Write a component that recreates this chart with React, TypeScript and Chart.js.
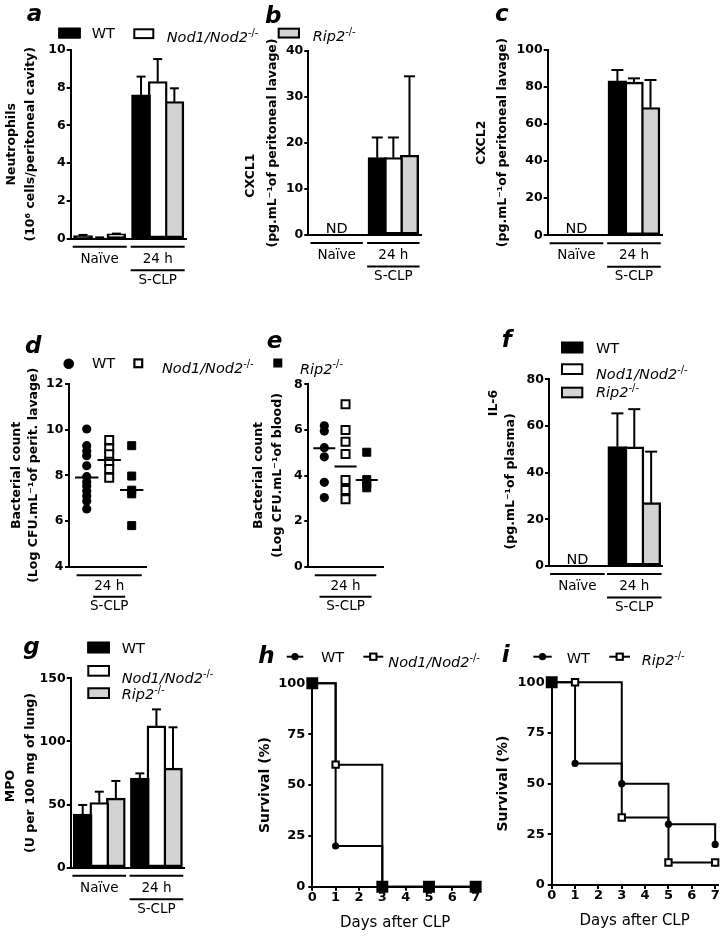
import React, { useEffect, useRef } from 'react';
import { Chart, registerables } from 'chart.js';

Chart.register(...registerables);

const PW = 723;
const PH = 939;
const FAM = "'DejaVu Sans', 'Liberation Sans', Arial, sans-serif";
const INK = '#000000';
const GREY = '#d3d3d3';
const PAPER = '#ffffff';

// ---------------- data ----------------
const barGroups = ['Naïve', '24 h'];
const genotypeNames = ['WT', 'Nod1/Nod2', 'Rip2'];
const koMark = '-/-';

// a — neutrophils (10^6 cells / peritoneal cavity): mean and SEM
const neutroWT = [0.15, 7.62];
const neutroNod = [0.05, 8.32];
const neutroRip = [0.25, 7.26];
const neutroWTErr = [0.05, 0.97];
const neutroNodErr = [0.02, 1.2];
const neutroRipErr = [0.02, 0.71];

// b — CXCL1 (pg/mL); naïve not detected
const cxcl1WT = [null, 16.8];
const cxcl1Nod = [null, 16.8];
const cxcl1Rip = [null, 17.3];
const cxcl1WTErr = [null, 4.4];
const cxcl1NodErr = [null, 4.4];
const cxcl1RipErr = [null, 17.2];

// c — CXCL2 (pg/mL)
const cxcl2WT = [null, 83.3];
const cxcl2Nod = [null, 82.6];
const cxcl2Rip = [null, 68.9];
const cxcl2WTErr = [null, 5.9];
const cxcl2NodErr = [null, 2.1];
const cxcl2RipErr = [null, 14.9];

// d — peritoneal bacterial count (log CFU/mL), individual animals
const periWT = [10.03, 9.3, 9.07, 8.86, 8.42, 7.94, 7.72, 7.53, 7.31, 7.1, 6.88, 6.53];
const periNod = [9.55, 9.18, 8.92, 8.6, 8.28, 7.9];
const periRip = [9.3, 7.97, 7.35, 7.19, 5.8];
const periMeans = [7.91, 8.67, 7.36];

// e — blood bacterial count (log CFU/mL)
const bloodWT = [6.18, 5.95, 5.22, 4.82, 3.7, 3.03];
const bloodNod = [7.12, 6.0, 5.48, 4.94, 3.8, 3.36, 2.96];
const bloodRip = [5.02, 3.82, 3.64, 3.46];
const bloodMeans = [5.19, 4.39, 3.8];

// f — IL-6 (pg/mL plasma)
const il6WT = [null, 51.1];
const il6Nod = [null, 51.0];
const il6Rip = [null, 27.1];
const il6WTErr = [null, 14.3];
const il6NodErr = [null, 16.2];
const il6RipErr = [null, 21.9];

// g — MPO (U per 100 mg lung)
const mpoWT = [42.3, 70.8];
const mpoNod = [51.5, 112.2];
const mpoRip = [55.0, 78.7];
const mpoWTErr = [7.4, 3.9];
const mpoNodErr = [8.7, 13.2];
const mpoRipErr = [13.7, 32.5];

// h, i — survival (%)
const days = [0, 1, 3, 5, 7];
const survWTh = [100, 20, 0, 0, 0];
const survNodh = [100, 60, 0, 0, 0];
const survWTi = [100, 60, 50, 30, 20];
const survRipi = [100, 100, 33.3, 11.1, 11.1];

// ---------------- helpers ----------------
const TITLE_SIZE = 12.5;
const common: any = {
  responsive: false,
  animation: false,
  devicePixelRatio: 1,
  events: [],
  plugins: { legend: { display: false }, tooltip: { enabled: false } },
};

// shift a rotated (left-axis) title line along the axis by padding it with spaces
// positive = downwards, negative = upwards
function shifted(t: string, px: number) {
  const n = Math.round((2 * Math.abs(px)) / (0.348 * TITLE_SIZE));
  const pad = ' '.repeat(n);
  return px >= 0 ? t + pad : pad + t;
}

function yScale(o: any) {
  return {
    type: 'linear',
    min: o.min,
    max: o.max,
    ticks: {
      stepSize: o.step,
      color: INK,
      padding: o.pad ?? 1,
      font: { family: FAM, size: o.tickSize ?? 12.5, weight: 'bold', lineHeight: 1.2 },
    },
    grid: { display: true, drawOnChartArea: false, drawTicks: true, tickLength: 4, color: INK, lineWidth: 2 },
    border: { display: true, color: INK, width: 2 },
    title: {
      display: true,
      text: o.title,
      color: INK,
      padding: { top: 0, bottom: 0 },
      font: { family: FAM, size: o.titleSize ?? TITLE_SIZE, weight: 'bold', lineHeight: `${o.lh}px` },
    },
    afterFit: (s: any) => {
      s.width = o.width;
    },
  };
}

function hline(ctx: any, x1: number, x2: number, y: number) {
  ctx.beginPath();
  ctx.moveTo(x1, y);
  ctx.lineTo(x2, y);
  ctx.stroke();
}

function drawRuns(ctx: any, x: number, y: number, runs: any[], size: number) {
  let cx = x;
  for (const r of runs) {
    const s = r.sup ? size * 0.68 : size;
    ctx.font = `${r.it ? 'italic ' : ''}${s}px ${FAM}`;
    ctx.textAlign = 'left';
    ctx.textBaseline = 'alphabetic';
    ctx.fillStyle = INK;
    ctx.fillText(r.t, cx, r.sup ? y - size * 0.42 : y);
    cx += ctx.measureText(r.t).width;
  }
}

const plain = (t: string) => [{ t }];
const ko = (t: string) => [{ t, it: true }, { t: koMark, sup: true }];

function drawLetter(ctx: any, L: any) {
  ctx.save();
  ctx.font = `italic bold 23px ${FAM}`;
  ctx.fillStyle = INK;
  ctx.textAlign = 'left';
  ctx.textBaseline = 'alphabetic';
  ctx.fillText(L.t, L.x, L.y);
  ctx.restore();
}

function drawLegend(ctx: any, items: any[]) {
  for (const it of items) {
    ctx.save();
    ctx.fillStyle = INK;
    ctx.strokeStyle = INK;
    if (it.kind === 'box') {
      ctx.fillStyle = it.fill;
      ctx.fillRect(it.x, it.y, it.w, it.h);
      ctx.lineWidth = 2;
      ctx.strokeRect(it.x + 1, it.y + 1, it.w - 2, it.h - 2);
    } else if (it.kind === 'dot') {
      ctx.beginPath();
      ctx.arc(it.x, it.y, it.r, 0, Math.PI * 2);
      ctx.fill();
    } else if (it.kind === 'sq') {
      const h = it.s / 2;
      ctx.fillRect(it.x - h, it.y - h, it.s, it.s);
      if (it.open) {
        ctx.fillStyle = PAPER;
        ctx.fillRect(it.x - h + it.lw, it.y - h + it.lw, it.s - 2 * it.lw, it.s - 2 * it.lw);
      }
    } else if (it.kind === 'seg') {
      ctx.lineWidth = 2;
      hline(ctx, it.x1, it.x2, it.y);
    } else if (it.kind === 'text') {
      drawRuns(ctx, it.x, it.y, it.runs, it.size ?? 14.5);
    }
    ctx.restore();
  }
}

// ---------------- bar panels ----------------
function barChart(p: any) {
  const fills = [INK, PAPER, GREY];
  const xh = 30;
  const plugin = {
    id: 'barDecor',
    afterDatasetsDraw(chart: any) {
      const ctx = chart.ctx;
      const ys = chart.scales.y;
      ctx.save();
      ctx.strokeStyle = INK;
      ctx.lineWidth = 2;
      p.series.forEach((s: any[], k: number) => {
        const meta = chart.getDatasetMeta(k);
        s.forEach((v: any, i: number) => {
          const e = p.errors[k][i];
          if (v == null || e == null) return;
          const el = meta.data[i];
          const x = el.x;
          const y0 = ys.getPixelForValue(v);
          const y1 = ys.getPixelForValue(v + e);
          ctx.beginPath();
          ctx.moveTo(x, y0);
          ctx.lineTo(x, y1);
          ctx.stroke();
          hline(ctx, x - p.cap, x + p.cap, y1);
        });
      });
      ctx.restore();
    },
    afterDraw(chart: any) {
      const ctx = chart.ctx;
      const xs = chart.scales.x;
      const b = chart.chartArea.bottom;
      const slot = (xs.right - xs.left) / barGroups.length;
      const half = (slot * p.catPct) / 2 + 2;
      ctx.save();
      ctx.strokeStyle = INK;
      ctx.fillStyle = INK;
      ctx.lineWidth = 2;
      barGroups.forEach((g, i) => {
        const c = xs.getPixelForValue(i);
        hline(ctx, c - half, c + half, b + 8);
        if (p.series.every((s: any[]) => s[i] == null)) {
          ctx.font = `14.5px ${FAM}`;
          ctx.textAlign = 'center';
          ctx.textBaseline = 'alphabetic';
          ctx.fillText('ND', c, b - 2.5);
        }
      });
      const cl = xs.getPixelForValue(barGroups.length - 1);
      hline(ctx, cl - half, cl + half, b + 31.5);
      ctx.font = `13.5px ${FAM}`;
      ctx.textAlign = 'center';
      ctx.textBaseline = 'middle';
      ctx.fillText('S-CLP', cl, b + 41.5);
      ctx.restore();
      drawLetter(ctx, p.letter);
      drawLegend(ctx, p.legend);
    },
  };
  return {
    type: 'bar',
    data: {
      labels: barGroups,
      datasets: p.series.map((s: any[], k: number) => ({
        label: genotypeNames[k],
        data: s,
        backgroundColor: fills[k],
        borderColor: INK,
        borderWidth: 2.4,
        borderSkipped: false,
        inflateAmount: 0.5,
        barPercentage: 1.12,
        categoryPercentage: p.catPct,
      })),
    },
    options: {
      ...common,
      layout: {
        autoPadding: false,
        padding: { left: p.titleEdge, top: p.area.top, right: PW - p.area.right, bottom: PH - p.area.bottom - xh },
      },
      scales: {
        x: {
          type: 'category',
          offset: true,
          grid: { display: false, drawTicks: false },
          border: { display: true, color: INK, width: 2 },
          ticks: {
            color: INK,
            padding: 13.75,
            maxRotation: 0,
            minRotation: 0,
            autoSkip: false,
            font: { family: FAM, size: 13.5, lineHeight: 1 },
          },
          afterFit: (s: any) => {
            s.height = xh;
          },
        },
        y: yScale({ min: p.min, max: p.max, step: p.step, title: p.title, lh: p.titleLH, width: p.area.left - p.titleEdge }),
      },
    },
    plugins: [plugin],
  };
}

// ---------------- dot-plot panels ----------------
function dotChart(p: any) {
  const xh = 30;
  const styles = [
    { pointStyle: 'circle', pointRadius: 4.6, pointBackgroundColor: INK, pointBorderColor: INK, pointBorderWidth: 0 },
    { pointStyle: 'rect', pointRadius: 5.66, pointBackgroundColor: PAPER, pointBorderColor: INK, pointBorderWidth: 2 },
    { pointStyle: 'rect', pointRadius: 5.66, pointBackgroundColor: INK, pointBorderColor: INK, pointBorderWidth: 1 },
  ];
  const plugin = {
    id: 'dotDecor',
    afterDraw(chart: any) {
      const ctx = chart.ctx;
      const xs = chart.scales.x;
      const b = chart.chartArea.bottom;
      const c = xs.getPixelForValue(1);
      ctx.save();
      ctx.strokeStyle = INK;
      ctx.fillStyle = INK;
      ctx.lineWidth = 2;
      hline(ctx, xs.getPixelForValue(-0.45), xs.getPixelForValue(2.45), b + 8.5);
      ctx.font = `13.5px ${FAM}`;
      ctx.textAlign = 'center';
      ctx.textBaseline = 'middle';
      ctx.fillText(barGroups[1], c, b + 20);
      hline(ctx, c - p.sclpHalf, c + p.sclpHalf, b + 30);
      ctx.fillText('S-CLP', c, b + 40);
      ctx.restore();
      drawLetter(ctx, p.letter);
      drawLegend(ctx, p.legend);
    },
  };
  return {
    type: 'scatter',
    data: {
      datasets: [
        {
          type: 'line',
          label: 'mean',
          data: p.means.flatMap((m: number, i: number) => [
            { x: i - 0.52, y: m },
            { x: i + 0.52, y: m },
            { x: i + 0.52, y: null },
          ]),
          borderColor: INK,
          borderWidth: 2,
          pointRadius: 0,
          showLine: true,
          spanGaps: false,
          order: -1,
          clip: false,
        },
        ...p.groups.map((vals: number[], k: number) => ({
          label: genotypeNames[k],
          data: vals.map((v) => ({ x: k, y: v })),
          ...styles[k],
          showLine: false,
          clip: false,
          order: k,
        })),
      ],
    },
    options: {
      ...common,
      layout: {
        autoPadding: false,
        padding: { left: p.titleEdge, top: p.area.top, right: PW - p.area.right, bottom: PH - p.area.bottom - xh },
      },
      scales: {
        x: {
          type: 'linear',
          min: p.xMin,
          max: p.xMax,
          ticks: { display: false },
          grid: { display: false, drawTicks: false },
          border: { display: true, color: INK, width: 2 },
          afterFit: (s: any) => {
            s.height = xh;
          },
        },
        y: yScale({ min: p.min, max: p.max, step: p.step, title: p.title, lh: p.titleLH, width: p.area.left - p.titleEdge, pad: 1.5 }),
      },
    },
    plugins: [plugin],
  };
}

// ---------------- survival panels ----------------
function kmChart(p: any) {
  const xh = 45.6;
  const kmSet = (label: string, vals: number[], other: number[], mutant: boolean) => {
    const same = vals.map((v, i) => v === other[i]);
    return {
      label,
      data: days.map((d, i) => ({ x: d, y: vals[i] })),
      stepped: true,
      borderColor: INK,
      borderWidth: 2,
      fill: false,
      clip: false,
      pointStyle: mutant ? 'rect' : 'circle',
      pointRadius: same.map((s) => (mutant ? (s ? 7 : 4.5) : s ? 0 : 3.6)),
      pointBackgroundColor: same.map((s) => (mutant ? (s ? INK : PAPER) : INK)),
      pointBorderColor: INK,
      pointBorderWidth: mutant ? 2 : 0,
      order: mutant ? 0 : 1,
    };
  };
  const plugin = {
    id: 'kmDecor',
    afterDraw(chart: any) {
      drawLetter(chart.ctx, p.letter);
      drawLegend(chart.ctx, p.legend);
    },
  };
  return {
    type: 'line',
    data: {
      datasets: [kmSet('WT', p.wt, p.mut, false), kmSet(p.mutName, p.mut, p.wt, true)],
    },
    options: {
      ...common,
      layout: {
        autoPadding: false,
        padding: { left: p.titleEdge, top: p.area.top, right: PW - p.area.right, bottom: PH - p.area.bottom - xh },
      },
      scales: {
        x: {
          type: 'linear',
          min: 0,
          max: 7.1,
          ticks: {
            stepSize: 1,
            includeBounds: false,
            color: INK,
            padding: 0,
            font: { family: FAM, size: 13, weight: 'bold', lineHeight: 1 },
          },
          grid: { display: true, drawOnChartArea: false, drawTicks: true, tickLength: 4, color: INK, lineWidth: 2 },
          border: { display: true, color: INK, width: 2 },
          title: {
            display: true,
            text: 'Days after CLP',
            color: INK,
            padding: { top: 0, bottom: 0 },
            font: { family: FAM, size: 15, lineHeight: 1.2 },
          },
          afterFit: (s: any) => {
            s.height = xh;
          },
        },
        y: yScale({
          min: 0, max: 100, step: 25, title: ['Survival (%)'], lh: 16, titleSize: 14, tickSize: 13,
          width: p.area.left - p.titleEdge, pad: 3,
        }),
      },
    },
    plugins: [plugin],
  };
}

// ---------------- panel layouts ----------------
const panels = [
  () =>
    barChart({
      series: [neutroWT, neutroNod, neutroRip],
      errors: [neutroWTErr, neutroNodErr, neutroRipErr],
      min: 0, max: 10, step: 2,
      title: ['Neutrophils', '(10⁶ cells/peritoneal cavity)'],
      area: { left: 70.7, top: 50, right: 186.7, bottom: 238.7 },
      titleEdge: 2.5, titleLH: 19, catPct: 0.862, cap: 4.5,
      letter: { t: 'a', x: 26.7, y: 20.5 },
      legend: [
        { kind: 'box', fill: INK, x: 58.3, y: 27.7, w: 22.4, h: 10.8 },
        { kind: 'text', x: 91.7, y: 38.3, runs: plain(genotypeNames[0]) },
        { kind: 'box', fill: PAPER, x: 133.3, y: 28.3, w: 21, h: 10.8 },
        { kind: 'text', x: 166.7, y: 42.3, runs: ko(genotypeNames[1]) },
        { kind: 'box', fill: GREY, x: 277.7, y: 27.7, w: 22.3, h: 10.8 },
        { kind: 'text', x: 312.7, y: 41, runs: ko(genotypeNames[2]) },
      ],
    }),
  () =>
    barChart({
      series: [cxcl1WT, cxcl1Nod, cxcl1Rip],
      errors: [cxcl1WTErr, cxcl1NodErr, cxcl1RipErr],
      min: 0, max: 40, step: 10,
      title: [shifted('CXCL1', 32), '(pg.mL⁻¹of peritoneal lavage)'],
      area: { left: 308.3, top: 51, right: 421.7, bottom: 235 },
      titleEdge: 240, titleLH: 22, catPct: 0.854, cap: 5.5,
      letter: { t: 'b', x: 265, y: 22.5 },
      legend: [],
    }),
  () =>
    barChart({
      series: [cxcl2WT, cxcl2Nod, cxcl2Rip],
      errors: [cxcl2WTErr, cxcl2NodErr, cxcl2RipErr],
      min: 0, max: 100, step: 20,
      title: ['CXCL2', '(pg.mL⁻¹of peritoneal lavage)'],
      area: { left: 547.7, top: 50, right: 662.7, bottom: 235.3 },
      titleEdge: 471.5, titleLH: 21, catPct: 0.863, cap: 6,
      letter: { t: 'c', x: 495, y: 20.5 },
      legend: [],
    }),
  () =>
    dotChart({
      groups: [periWT, periNod, periRip],
      means: periMeans,
      min: 4, max: 12, step: 2,
      title: ['Bacterial count', '(Log CFU.mL⁻¹of perit. lavage)'],
      area: { left: 69, top: 384, right: 146.7, bottom: 566.7 },
      titleEdge: 7.95, titleLH: 17.5, xMin: -0.787, xMax: 2.667, sclpHalf: 16,
      letter: { t: 'd', x: 25, y: 353.3 },
      legend: [
        { kind: 'dot', x: 68.7, y: 363.7, r: 5.3 },
        { kind: 'text', x: 92, y: 368.3, runs: plain(genotypeNames[0]) },
        { kind: 'sq', x: 138.3, y: 363.3, s: 10, open: true, lw: 2.2 },
        { kind: 'text', x: 162, y: 372.7, runs: ko(genotypeNames[1]) },
        { kind: 'sq', x: 277.8, y: 363, s: 9, open: false, lw: 0 },
        { kind: 'text', x: 300, y: 373.5, runs: ko(genotypeNames[2]) },
      ],
    }),
  () =>
    dotChart({
      groups: [bloodWT, bloodNod, bloodRip],
      means: bloodMeans,
      min: 0, max: 8, step: 2,
      title: ['Bacterial count', '(Log CFU.mL⁻¹of blood)'],
      area: { left: 308.3, top: 384.3, right: 383.3, bottom: 566.7 },
      titleEdge: 249.5, titleLH: 19, xMin: -0.755, xMax: 2.78, sclpHalf: 26,
      letter: { t: 'e', x: 266.7, y: 348.3 },
      legend: [],
    }),
  () =>
    barChart({
      series: [il6WT, il6Nod, il6Rip],
      errors: [il6WTErr, il6NodErr, il6RipErr],
      min: 0, max: 80, step: 20,
      title: [shifted('IL-6', -70), shifted('(pg.mL⁻¹of plasma)', 8)],
      area: { left: 549, top: 379.3, right: 662.7, bottom: 566 },
      titleEdge: 484.8, titleLH: 17, catPct: 0.89, cap: 6,
      letter: { t: 'f', x: 501.7, y: 346.7 },
      legend: [
        { kind: 'box', fill: INK, x: 561, y: 341.7, w: 22.3, h: 11.6 },
        { kind: 'text', x: 596, y: 353.3, runs: plain(genotypeNames[0]) },
        { kind: 'box', fill: PAPER, x: 561, y: 363.3, w: 22.3, h: 11.7 },
        { kind: 'text', x: 596, y: 379.3, runs: ko(genotypeNames[1]) },
        { kind: 'box', fill: GREY, x: 561, y: 386.7, w: 22.3, h: 11.6 },
        { kind: 'text', x: 596, y: 397, runs: ko(genotypeNames[2]) },
      ],
    }),
  () =>
    barChart({
      series: [mpoWT, mpoNod, mpoRip],
      errors: [mpoWTErr, mpoNodErr, mpoRipErr],
      min: 0, max: 150, step: 50,
      title: [shifted('MPO', 12), '(U per 100 mg of lung)'],
      area: { left: 70.7, top: 678.3, right: 185, bottom: 867.7 },
      titleEdge: 0.5, titleLH: 20, catPct: 0.87, cap: 4.5,
      letter: { t: 'g', x: 23.3, y: 654 },
      legend: [
        { kind: 'box', fill: INK, x: 87.3, y: 641.7, w: 22.7, h: 11.6 },
        { kind: 'text', x: 121.7, y: 653.3, runs: plain(genotypeNames[0]) },
        { kind: 'box', fill: PAPER, x: 87.3, y: 665, w: 22.7, h: 11.7 },
        { kind: 'text', x: 121.7, y: 682.7, runs: ko(genotypeNames[1]) },
        { kind: 'box', fill: GREY, x: 87.3, y: 687.3, w: 22.7, h: 11.7 },
        { kind: 'text', x: 121.7, y: 699, runs: ko(genotypeNames[2]) },
      ],
    }),
  () =>
    kmChart({
      wt: survWTh,
      mut: survNodh,
      mutName: 'Nod1/Nod2-/-',
      area: { left: 312.3, top: 683.3, right: 478, bottom: 886.7 },
      titleEdge: 257,
      letter: { t: 'h', x: 258.3, y: 663.3 },
      legend: [
        { kind: 'seg', x1: 286.7, x2: 303.3, y: 656.7 },
        { kind: 'dot', x: 295, y: 656.7, r: 3.6 },
        { kind: 'text', x: 321, y: 662.3, runs: plain(genotypeNames[0]) },
        { kind: 'seg', x1: 363.3, x2: 383.3, y: 656.7 },
        { kind: 'sq', x: 373.3, y: 656.7, s: 8.3, open: true, lw: 2 },
        { kind: 'text', x: 388.3, y: 666.7, runs: ko(genotypeNames[1]) },
      ],
    }),
  () =>
    kmChart({
      wt: survWTi,
      mut: survRipi,
      mutName: 'Rip2-/-',
      area: { left: 551.7, top: 682.3, right: 717.5, bottom: 885 },
      titleEdge: 495.8,
      letter: { t: 'i', x: 501.7, y: 661.7 },
      legend: [
        { kind: 'seg', x1: 533.3, x2: 551.7, y: 656.7 },
        { kind: 'dot', x: 542.5, y: 656.7, r: 3.6 },
        { kind: 'text', x: 566.7, y: 662.7, runs: plain(genotypeNames[0]) },
        { kind: 'seg', x1: 609.3, x2: 630, y: 656.7 },
        { kind: 'sq', x: 619.7, y: 656.7, s: 8.3, open: true, lw: 2 },
        { kind: 'text', x: 641.7, y: 665, runs: ko(genotypeNames[2]) },
      ],
    }),
];

export default function App() {
  const refs = useRef<(HTMLCanvasElement | null)[]>([]);
  useEffect(() => {
    const charts = panels.map((make, i) => new Chart(refs.current[i] as HTMLCanvasElement, make() as any));
    return () => charts.forEach((c) => c.destroy());
  }, []);
  return (
    <div
      style={{
        position: 'absolute',
        left: 0,
        top: 0,
        width: PW,
        height: PH,
        background: '#ffffff',
        overflow: 'hidden',
      }}
    >
      {panels.map((_, i) => (
        <canvas
          key={i}
          ref={(el) => {
            refs.current[i] = el;
          }}
          width={PW}
          height={PH}
          style={{ position: 'absolute', left: 0, top: 0, width: PW, height: PH }}
        />
      ))}
    </div>
  );
}
